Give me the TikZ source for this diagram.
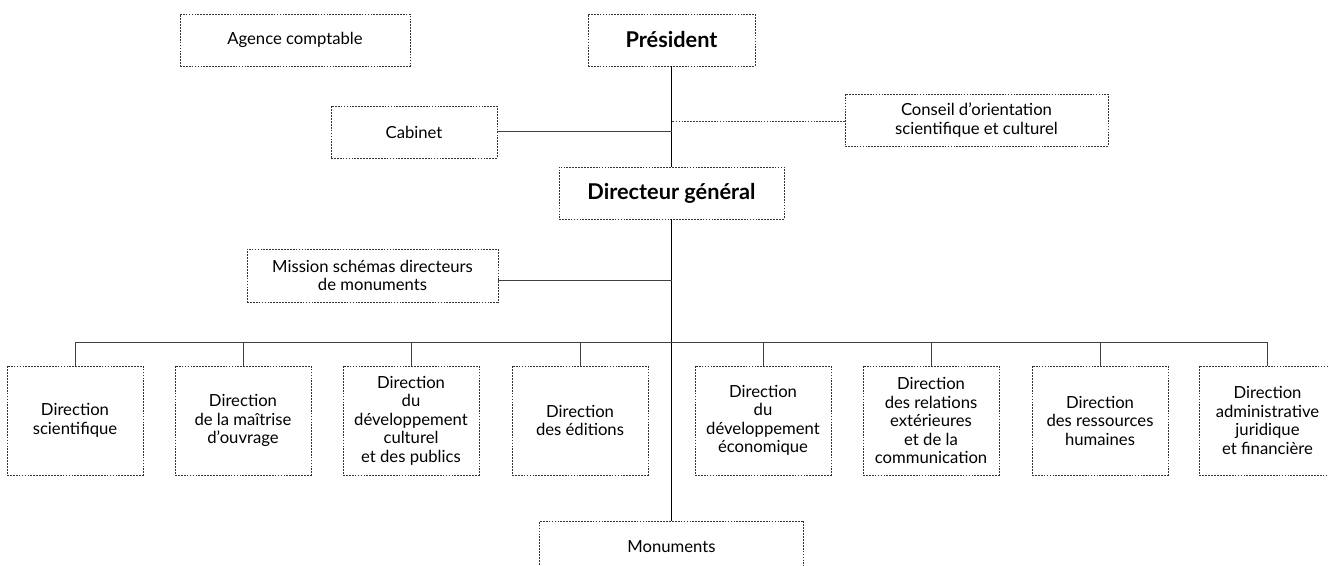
\documentclass[tikz,border=0pt]{standalone}
\usepackage{fontspec}
\setmainfont{Lato}
\begin{document}
\begin{tikzpicture}[x=0.75pt,y=-0.75pt,
  box/.style={draw=black!80, line width=0.6pt, dash pattern=on 1.3pt off 0.9pt,
    inner sep=0pt, align=center, font=\fontsize{12.5pt}{13.9pt}\selectfont},
  bigbox/.style={box, font=\fontsize{16.3pt}{18pt}\selectfont\bfseries},
  dirbox/.style={box, minimum width=102pt, minimum height=81.75pt},
  link/.style={draw=black!75, line width=0.75pt},
  vlink/.style={draw=black, line width=0.75pt}]
\useasboundingbox (0,0) rectangle (1328,566);

\node[box, minimum width=172.5pt, minimum height=39pt] (agence) at (295,40) {Agence comptable};
\node[bigbox, minimum width=125.25pt, minimum height=39pt] (pres) at (671.5,40) {Président};
\node[box, minimum width=124.5pt, minimum height=39pt] (cab) at (414,132) {Cabinet};
\node[box, minimum width=197.25pt, minimum height=39pt] (cons) at (976.5,120) {Conseil d’orientation\\scientifique et culturel};
\node[bigbox, minimum width=168.75pt, minimum height=39pt] (dg) at (671.5,193) {Directeur général};
\node[box, minimum width=188.25pt, minimum height=39.75pt] (miss) at (372.5,275.5) {Mission schémas directeurs\\de monuments};

\node[dirbox] (d1) at (75,420.5) {Direction\\scientifique};
\node[dirbox] (d2) at (243,420.5) {Direction\\de la maîtrise\\d’ouvrage};
\node[dirbox] (d3) at (411,420.5) {Direction\\du\\développement\\culturel\\et des publics};
\node[dirbox] (d4) at (580,420.5) {Direction\\des éditions};
\node[dirbox] (d5) at (763,420.5) {Direction\\du\\développement\\économique};
\node[dirbox] (d6) at (931,420.5) {Direction\\des relations\\extérieures\\et de la\\communication};
\node[dirbox] (d7) at (1100,420.5) {Direction\\des ressources\\humaines};
\node[dirbox] (d8) at (1267.5,420.5) {Direction\\administrative\\juridique\\et financière};

\node[box, minimum width=198pt, minimum height=39pt] (mon) at (671.5,547) {Monuments};

% connectors
\draw[vlink] (pres.south) -- (dg.north);
\draw[link] (cab.east) -- (cab.east -| pres.south);
\draw[draw=black!75, line width=0.6pt, dash pattern=on 1.3pt off 0.9pt] (cons.west |- 0,121) coordinate (cw) -- (cw -| pres.south);
\draw[vlink] (dg.south) -- (mon.north);
\draw[link] (miss.east |- 0,281) -- (miss.east |- 0,281 -| dg.south);
\coordinate (busL) at (75,343);
\coordinate (busR) at (1267.5,343);
\draw[link] (busL) -- (busR);
\foreach \d in {d1,d2,d3,d4,d5,d6,d7,d8}
  \draw[link] (\d.north) -- (\d.north |- busL);
\end{tikzpicture}
\end{document}
